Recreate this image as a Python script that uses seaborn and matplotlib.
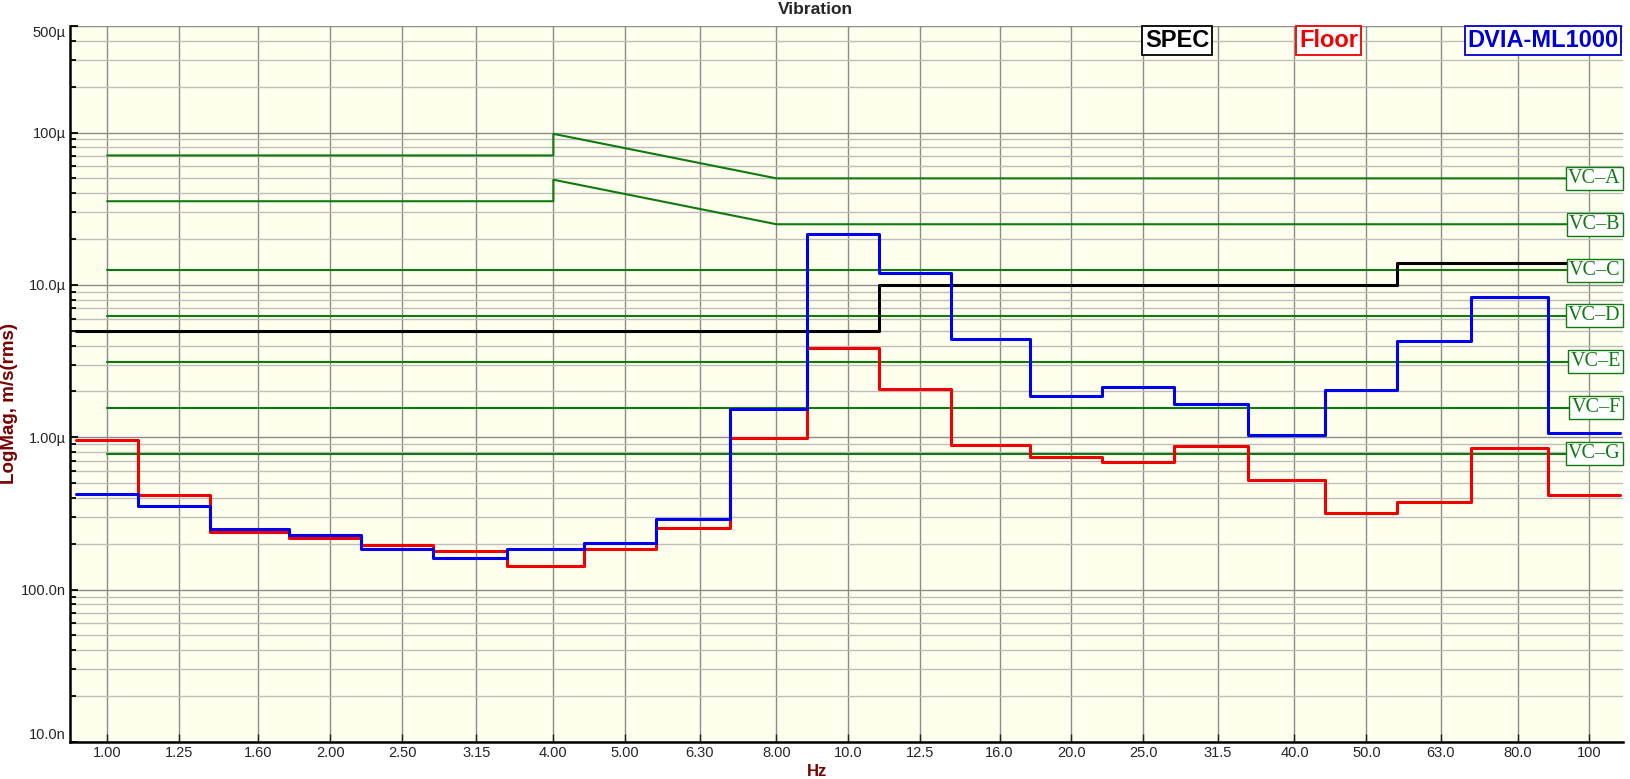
import matplotlib
matplotlib.use("Agg")
import matplotlib.pyplot as plt
import matplotlib.ticker as mticker
import matplotlib.transforms as mtrans
import pandas as pd
import seaborn as sns

# ---------------- data ----------------
band_labels = ['1.00', '1.25', '1.60', '2.00', '2.50', '3.15', '4.00', '5.00', '6.30', '8.00',
               '10.0', '12.5', '16.0', '20.0', '25.0', '31.5', '40.0', '50.0', '63.0', '80.0', '100']
band_hz = [1.0, 1.25, 1.6, 2.0, 2.5, 3.15, 4.0, 5.0, 6.3, 8.0,
           10.0, 12.5, 16.0, 20.0, 25.0, 31.5, 40.0, 50.0, 63.0, 80.0, 100.0]

# velocities in micro m/s (rms), one value per 1/3-octave band
floor_um = [0.954, 0.417, 0.240, 0.219, 0.197, 0.178, 0.142, 0.184, 0.255, 0.99,
            3.85, 2.07, 0.887, 0.745, 0.683, 0.873, 0.523, 0.316, 0.377, 0.852, 0.419]
dvia_um = [0.426, 0.355, 0.249, 0.227, 0.186, 0.161, 0.184, 0.201, 0.292, 1.54,
           21.6, 12.0, 4.41, 1.86, 2.15, 1.66, 1.04, 2.04, 4.28, 8.3, 1.07]
spec_um = [5, 5, 5, 5, 5, 5, 5, 5, 5, 5,
           5, 10, 10, 10, 10, 10, 10, 10, 14, 14, 14]

vc_names = ['VC\u2013A', 'VC\u2013B', 'VC\u2013C', 'VC\u2013D', 'VC\u2013E', 'VC\u2013F', 'VC\u2013G']
vc_levels_um = [50, 25, 12.5, 6.25, 3.12, 1.56, 0.78]
vc_span_hz = [1.0, 110.0]
vca_hz = [1.0, 4.0, 4.0, 8.0, 110.0]
vca_um = [70.7, 70.7, 98.0, 50.0, 50.0]
vcb_um = [35.4, 35.4, 49.0, 25.0, 25.0]

y_ticks = [1e-8, 1e-7, 1e-6, 1e-5, 1e-4, 5e-4]
y_tick_labels = ['10.0n', '100.0n', '1.00\u00b5', '10.0\u00b5', '100\u00b5', '500\u00b5']

# ---------------- style ----------------
sns.set_style("white")
plt.rcParams['font.family'] = ['Liberation Sans', 'DejaVu Sans']

GREEN = '#0F7A0F'
RED = '#F00000'
BLUE = '#0000F0'
DARKRED = '#7A0000'

fig = plt.figure(figsize=(16.31, 7.79), dpi=100)
ax = fig.add_axes([70 / 1631, 37 / 779, 1553 / 1631, 716 / 779])
ax.set_facecolor('#FFFFEE')
ax.set_xscale('log')
ax.set_yscale('log')


def band_frame(vals_um):
    edges = [band_hz[0] / 1.1] + [f * 1.1 for f in band_hz]
    vals = [v * 1e-6 for v in vals_um] + [vals_um[-1] * 1e-6]
    return pd.DataFrame({'Hz': edges, 'v': vals})


# VC criteria
for name, lvl in zip(vc_names, vc_levels_um):
    if name.endswith('A'):
        d = pd.DataFrame({'Hz': vca_hz, 'v': [u * 1e-6 for u in vca_um]})
    elif name.endswith('B'):
        d = pd.DataFrame({'Hz': vca_hz, 'v': [u * 1e-6 for u in vcb_um]})
    else:
        d = pd.DataFrame({'Hz': vc_span_hz, 'v': [lvl * 1e-6] * 2})
    sns.lineplot(data=d, x='Hz', y='v', ax=ax, color=GREEN, lw=1.5,
                 estimator=None, sort=False, zorder=3)

# spec, floor, device
sns.lineplot(data=band_frame(spec_um), x='Hz', y='v', ax=ax, color='black', lw=2.2,
             drawstyle='steps-post', estimator=None, sort=False, zorder=4)
sns.lineplot(data=band_frame(floor_um), x='Hz', y='v', ax=ax, color=RED, lw=2.2,
             drawstyle='steps-post', estimator=None, sort=False, zorder=5)
sns.lineplot(data=band_frame(dvia_um), x='Hz', y='v', ax=ax, color=BLUE, lw=2.2,
             drawstyle='steps-post', estimator=None, sort=False, zorder=6)

ax.set_xlim(0.891, 111)
ax.set_ylim(1e-8, 5e-4)

# x axis
ax.xaxis.set_major_locator(mticker.FixedLocator(band_hz))
ax.xaxis.set_major_formatter(mticker.FixedFormatter(band_labels))
ax.xaxis.set_minor_locator(mticker.NullLocator())
# y axis
ax.yaxis.set_major_locator(mticker.FixedLocator(y_ticks))
ax.yaxis.set_major_formatter(mticker.FixedFormatter(y_tick_labels))
ax.yaxis.set_minor_locator(mticker.LogLocator(base=10, subs=[2, 3, 4, 5, 6, 7, 8, 9]))
ax.yaxis.set_minor_formatter(mticker.NullFormatter())

ax.tick_params(axis='x', which='major', direction='in', length=6, width=1, color='#202020',
               labelsize=10.5, pad=3, bottom=True)
ax.tick_params(axis='y', which='major', direction='in', length=6, width=1.3, color='black',
               labelsize=10.5, pad=3, left=True)
ax.tick_params(axis='y', which='minor', direction='in', length=4, width=1.3, color='black', left=True)

for lab in ax.get_yticklabels():
    if lab.get_text() == '500\u00b5':
        lab.set_va('top')
    elif lab.get_text() == '10.0n':
        lab.set_va('bottom')

ax.grid(True, which='major', axis='both', color='#8C8C8C', lw=1.0, zorder=0)
ax.grid(True, which='minor', axis='y', color='#BDBDBD', lw=1.0, zorder=0)
ax.set_axisbelow(True)

for s in ['top', 'right']:
    ax.spines[s].set_visible(False)
for s in ['left', 'bottom']:
    ax.spines[s].set_color('black')
    ax.spines[s].set_linewidth(1.8)

ax.set_xlabel('')
ax.set_ylabel('')

# VC labels on the right
trans = mtrans.blended_transform_factory(ax.transAxes, ax.transData)
for name, lvl in zip(vc_names, vc_levels_um):
    ax.text(0.9985, lvl * 1e-6, name, transform=trans, ha='right', va='center',
            family=['Liberation Serif', 'DejaVu Serif'], fontsize=14.5, color=GREEN, zorder=10,
            bbox=dict(boxstyle='square,pad=0.1', fc='white', ec=GREEN, lw=1.0))

# legend boxes
for txt, col, xf in [('SPEC', 'black', 0.7128), ('Floor', RED, 0.8104), ('DVIA-ML1000', '#0000D0', 0.9485)]:
    ax.text(xf, 0.9797, txt, transform=ax.transAxes, ha='center', va='center',
            fontsize=17, fontweight='bold', color=col, zorder=11,
            bbox=dict(boxstyle='square,pad=0.12', fc='white', ec=col, lw=1.3))

fig.text(0.5, 1 - 9 / 779, 'Vibration', ha='center', va='center', fontsize=12.5, fontweight='bold')
fig.text(817 / 1631, (779 - 772) / 779, 'Hz', ha='center', va='center',
         fontsize=12, fontweight='bold', color=DARKRED)
fig.text(10 / 1631, 1 - 403 / 779, 'LogMag, m/s(rms)', rotation=90, ha='center', va='center',
         fontsize=13.5, fontweight='bold', color=DARKRED)

fig.savefig('out.png', dpi=100)
